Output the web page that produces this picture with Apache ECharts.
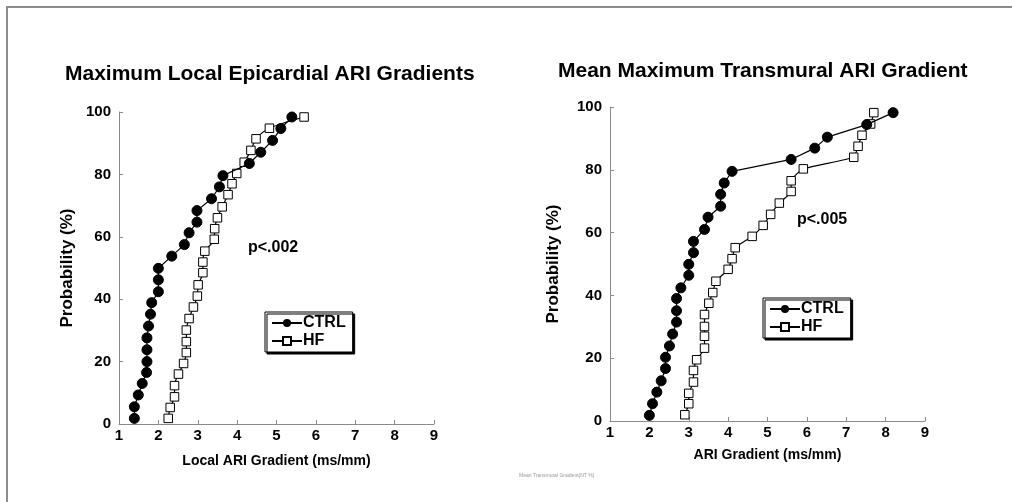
<!DOCTYPE html>
<html><head><meta charset="utf-8">
<script src="https://cdn.jsdelivr.net/npm/echarts@6/dist/echarts.min.js"></script>
<style>html,body{margin:0;padding:0;background:#fff}#c{width:1012px;height:502px}</style>
</head><body><div id="c"></div>
<script>
var ctrlLocalX = [1.39,1.39,1.49,1.59,1.70,1.71,1.71,1.71,1.75,1.80,1.83,2.00,2.00,2.00,2.34,2.66,2.78,2.98,2.98,3.35,3.55,3.64,4.31,4.60,4.90,5.11,5.39];
var ctrlLocalY = [1.8,5.5,9.3,13.0,16.5,20.0,23.8,27.6,31.4,35.2,38.9,42.4,46.2,49.9,53.8,57.5,61.3,64.7,68.4,72.2,76.0,79.6,83.5,87.1,90.9,94.7,98.4];
var hfLocalX = [2.25,2.30,2.41,2.41,2.51,2.64,2.71,2.71,2.71,2.78,2.89,2.99,3.01,3.13,3.13,3.18,3.42,3.43,3.50,3.62,3.77,3.87,3.99,4.18,4.35,4.48,4.82,5.70];
var hfLocalY = [1.8,5.3,8.7,12.3,16.0,19.4,22.9,26.4,30.1,33.8,37.5,41.0,44.6,48.5,51.9,55.4,59.2,62.6,66.1,69.6,73.5,77.0,80.3,83.9,87.7,91.4,94.8,98.4];
var ctrlTransX = [2.00,2.08,2.19,2.30,2.41,2.41,2.51,2.59,2.69,2.69,2.69,2.80,3.00,3.00,3.12,3.12,3.40,3.49,3.81,3.81,3.90,4.10,5.60,6.20,6.52,7.52,8.19];
var ctrlTransY = [1.8,5.5,9.2,12.8,16.7,20.3,23.9,27.7,31.5,35.1,39.0,42.4,46.4,49.9,53.6,57.2,61.0,64.9,68.4,72.2,75.8,79.5,83.3,86.9,90.4,94.4,98.2];
var hfTransX = [2.90,3.00,3.00,3.12,3.12,3.20,3.40,3.40,3.40,3.40,3.51,3.61,3.69,4.00,4.10,4.18,4.61,4.89,5.08,5.30,5.60,5.60,5.91,7.19,7.30,7.40,7.62,7.70];
var hfTransY = [2.0,5.5,8.8,12.4,16.1,19.5,23.2,27.0,30.1,33.9,37.5,40.9,44.5,48.3,51.7,55.2,58.8,62.3,65.8,69.4,73.1,76.5,80.3,84.0,87.5,91.0,94.6,98.2];
var titles = ['Maximum Local Epicardial ARI Gradients', 'Mean Maximum Transmural ARI Gradient'];
var xNames = ['Local ARI Gradient (ms/mm)', 'ARI Gradient (ms/mm)'];
var yName = 'Probability (%)';
var pTexts = ['p<.002', 'p<.005'];
var seriesNames = ['CTRL', 'HF'];

function zip(a, b) { return a.map(function (v, i) { return [v, b[i]]; }); }
var FF = '"Liberation Sans", Arial, Helvetica, sans-serif';
var axisCol = '#8a8a8a';

function xAxis(idx, name, gap) {
  return {
    gridIndex: idx, type: 'value', min: 1, max: 9, interval: 1,
    name: name, nameLocation: 'middle', nameGap: gap,
    nameTextStyle: { fontFamily: FF, fontWeight: 'bold', fontSize: 14, color: '#000' },
    axisLine: { lineStyle: { color: axisCol, width: 1 } },
    axisTick: { inside: true, length: 4, lineStyle: { color: axisCol } },
    axisLabel: { fontFamily: FF, fontWeight: 'bold', fontSize: 15, color: '#000', margin: 4 },
    splitLine: { show: false }
  };
}
function yAxis(idx, gap) {
  return {
    gridIndex: idx, type: 'value', min: 0, max: 100, interval: 20,
    name: yName, nameLocation: 'middle', nameGap: gap, nameRotate: 90,
    nameTextStyle: { fontFamily: FF, fontWeight: 'bold', fontSize: 17, color: '#000' },
    axisLine: { show: true, lineStyle: { color: axisCol, width: 1 } },
    axisTick: { show: true, inside: true, length: 4, lineStyle: { color: axisCol } },
    axisLabel: { fontFamily: FF, fontWeight: 'bold', fontSize: 15, color: '#000', margin: 8 },
    splitLine: { show: false }
  };
}
function ctrlSeries(idx, data) {
  return {
    name: seriesNames[0], type: 'line', xAxisIndex: idx, yAxisIndex: idx, data: data,
    symbol: 'circle', symbolSize: 10,
    itemStyle: { color: '#000', borderColor: '#000' },
    lineStyle: { color: '#000', width: 1.2 }, animation: false, z: 3
  };
}
function hfSeries(idx, data, smooth) {
  return {
    name: seriesNames[1], type: 'line', xAxisIndex: idx, yAxisIndex: idx, data: data,
    symbol: 'rect', symbolSize: 8.5, smooth: smooth,
    itemStyle: { color: '#fff', borderColor: '#000', borderWidth: 1 },
    lineStyle: { color: '#000', width: 1.2 }, animation: false, z: 2
  };
}
function legend(left, top) {
  return {
    data: seriesNames, orient: 'vertical', left: left, top: top,
    itemWidth: 30, itemHeight: 10, itemGap: 2, padding: [3, 7, 3, 6],
    backgroundColor: '#fff', borderColor: '#000', borderWidth: 1,
    shadowColor: '#000', shadowOffsetX: 2, shadowOffsetY: 2, shadowBlur: 0,
    textStyle: { fontFamily: FF, fontWeight: 'bold', fontSize: 16, color: '#000', padding: [0, 0, 0, -4] },
    selectedMode: false
  };
}

var chart = echarts.init(document.getElementById('c'), null, { renderer: 'canvas' });
chart.setOption({
  backgroundColor: '#fff',
  animation: false,
  title: [
    { text: titles[0], left: 65, top: 64, padding: 0, textStyle: { fontFamily: FF, fontWeight: 'bold', fontSize: 21, color: '#000' } },
    { text: titles[1], left: 558, top: 61, padding: 0, textStyle: { fontFamily: FF, fontWeight: 'bold', fontSize: 21, color: '#000' } }
  ],
  grid: [
    { left: 119, right: 578, top: 112, bottom: 78 },
    { left: 610, right: 87, top: 107, bottom: 81 }
  ],
  xAxis: [xAxis(0, xNames[0], 30), xAxis(1, xNames[1], 27)],
  yAxis: [yAxis(0, 43), yAxis(1, 48)],
  legend: [legend(265, 312), legend(763, 298)],
  series: [
    ctrlSeries(0, zip(ctrlLocalX, ctrlLocalY)),
    hfSeries(0, zip(hfLocalX, hfLocalY), 0.3),
    ctrlSeries(1, zip(ctrlTransX, ctrlTransY)),
    hfSeries(1, zip(hfTransX, hfTransY), 0.15)
  ],
  graphic: [
    { type: 'rect', shape: { x: 7, y: 7, width: 1020, height: 520 }, style: { fill: 'none', stroke: '#8c8c8c', lineWidth: 2 }, silent: true },
    { type: 'text', left: 248, top: 240, style: { text: pTexts[0], fontFamily: FF, fontWeight: 'bold', fontSize: 16, fill: '#000' } },
    { type: 'text', left: 797, top: 212, style: { text: pTexts[1], fontFamily: FF, fontWeight: 'bold', fontSize: 16, fill: '#000' } },
    { type: 'text', left: 519, top: 473, style: { text: 'Mean Transmural Gradient(NT %)', fontFamily: FF, fontSize: 5, fill: '#999' } }
  ]
});
</script></body></html>
